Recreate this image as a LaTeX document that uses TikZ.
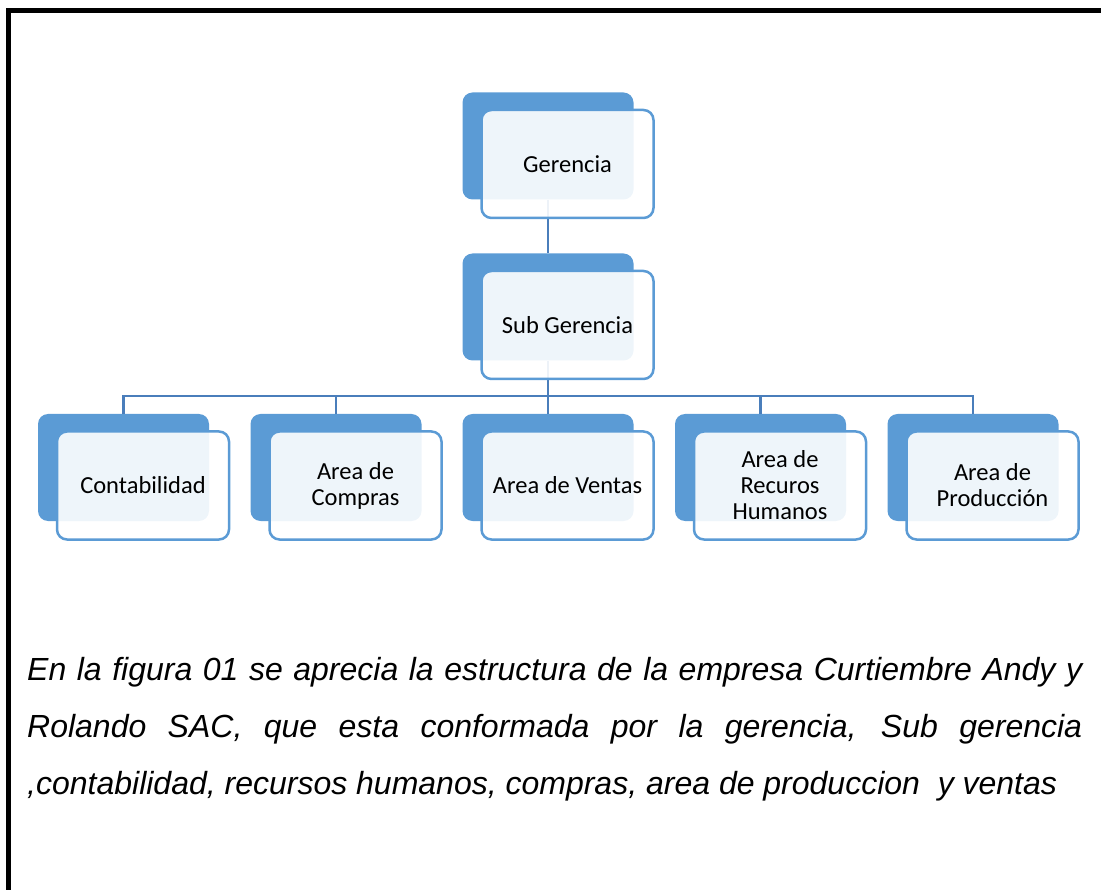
\documentclass[tikz,border=0pt]{standalone}
\usepackage{fontspec}
\setmainfont{Liberation Sans}
\newfontfamily\boxfont{Carlito}
\definecolor{orgblue}{RGB}{91,155,213}
\definecolor{linkblue}{RGB}{74,126,187}
\tikzset{
	backbox/.style={fill=orgblue, rounded corners=10pt, minimum width=171pt, minimum height=107pt, inner sep=0pt},
	frontbox/.style={draw=orgblue, line width=2.5pt, fill=white, fill opacity=0.9, text opacity=1, rounded corners=10pt, minimum width=172pt, minimum height=108pt, inner sep=0pt, align=center, font=\boxfont\fontsize{24.5}{26}\selectfont},
	link/.style={draw=linkblue, line width=2.5pt}
}
\begin{document}
\begin{tikzpicture}[x=1pt,y=-1pt]
			\useasboundingbox (0,0) rectangle (1101,890);
			\draw[line width=5pt] (8.5,10.5) rectangle (1120,910);
			% back boxes
			\node[backbox] (gb) at (548,146) {};
			\node[backbox] (sb) at (548,307) {};
			\foreach \i\x in {1/123.5,2/336,3/548,4/760.5,5/973}{
				\node[backbox] (b\i) at (\x,467.5) {};
			}
			% connectors
			\coordinate (bus) at (548,396);
			\draw[link] (gb.south) -- (sb.north);
			\draw[link] (sb.south) -- (bus);
			\foreach \i in {1,...,5}{
				\draw[link] (bus) -| (b\i.north);
			}
			% front boxes
			\node[frontbox] (gf) at (567.5,164) {Gerencia};
			\node[frontbox] (sf) at (567.5,325) {Sub Gerencia};
			\foreach \i\x\t in {1/123.5/Contabilidad,2/336/Area de\\Compras,3/548/Area de Ventas,4/760.5/Area de\\Recuros\\Humanos,5/973/Area de\\Producción}{
				\node[frontbox] (f\i) at (\x+19.5,485.5) {\t};
			}
			% caption
			\node[anchor=base west, inner sep=0pt] (caption) at (27,680) {\parbox[t]{1055pt}{\fontsize{32}{57}\selectfont\itshape
				\makebox[\linewidth][s]{En la figura 01 se aprecia la estructura de la empresa Curtiembre Andy y}\\
				\makebox[\linewidth][s]{Rolando SAC, que esta conformada por la gerencia, Sub gerencia}\\
				,contabilidad, recursos humanos, compras, area de produccion\ \ y ventas}};
		\end{tikzpicture}
\end{document}
